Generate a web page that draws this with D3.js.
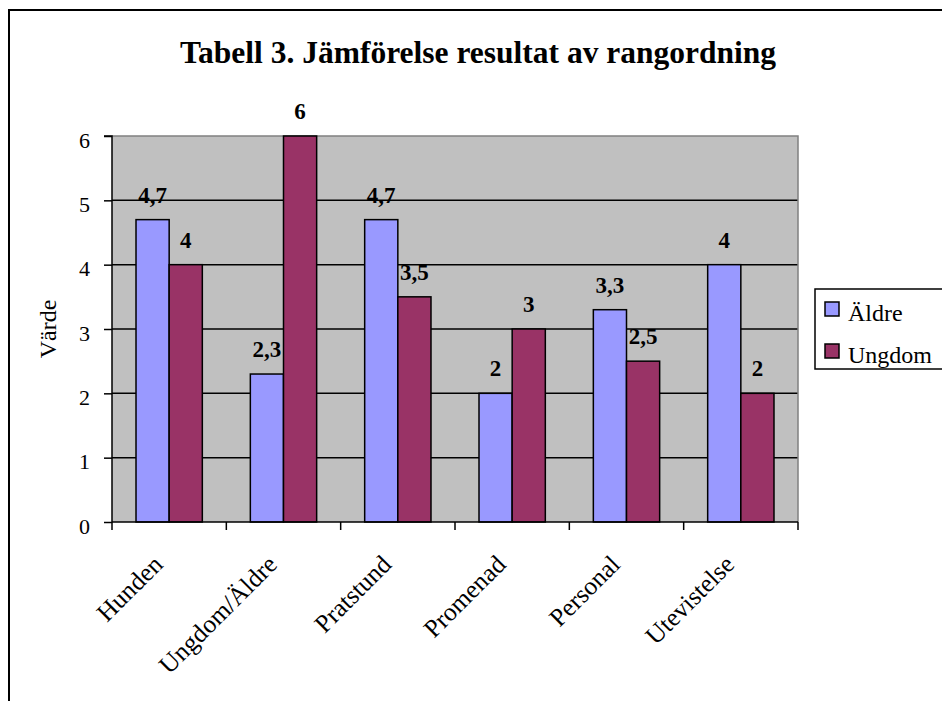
<!DOCTYPE html>
<html>
<head>
<meta charset="utf-8">
<script src="https://cdn.jsdelivr.net/npm/d3@7"></script>
<style>
  body { margin: 0; background: #fff; }
  svg { display: block; font-family: "Liberation Serif", "DejaVu Serif", serif; }
</style>
</head>
<body>
<svg width="942" height="701"></svg>
<script>
// chart data
const categories = ['Hunden', 'Ungdom/Äldre', 'Pratstund', 'Promenad', 'Personal', 'Utevistelse'];
const seriesNames = ['Äldre', 'Ungdom'];
const aldre = [4.7, 2.3, 4.7, 2, 3.3, 4];
const ungdom = [4, 6, 3.5, 3, 2.5, 2];
const yTicks = [0, 1, 2, 3, 4, 5, 6];
const colors = ['#9999FF', '#993366'];

const svg = d3.select('svg');

// outer frame
svg.append('rect')
    .attr('x', 9).attr('y', 10)
    .attr('width', 960).attr('height', 720)
    .attr('fill', 'none')
    .attr('stroke', '#000')
    .attr('stroke-width', 2);

const pLeft = 112, pRight = 798, pTop = 136, pBottom = 522;

const x = d3.scaleBand().domain(categories).range([pLeft, pRight]).padding(0);
const xs = d3.scaleBand().domain(seriesNames)
    .range([x.bandwidth() * 0.21, x.bandwidth() * 0.79]);
const y = d3.scaleLinear().domain([0, 6]).range([pBottom, pTop]);

// plot background
svg.append('rect')
    .attr('x', pLeft).attr('y', pTop)
    .attr('width', pRight - pLeft).attr('height', pBottom - pTop)
    .attr('fill', '#C0C0C0');

// gridlines
svg.append('g').selectAll('line')
    .data(yTicks.filter(d => d > 0 && d < 6))
    .join('line')
    .attr('x1', pLeft).attr('x2', pRight)
    .attr('y1', d => y(d)).attr('y2', d => y(d))
    .attr('stroke', '#000').attr('stroke-width', 1.5);

// top and right border, gray
svg.append('path')
    .attr('d', `M${pLeft},${pTop}H${pRight}V${pBottom}`)
    .attr('fill', 'none')
    .attr('stroke', '#808080')
    .attr('stroke-width', 1.5);

// bars
const rows = categories.map((c, i) => ({ cat: c, vals: [aldre[i], ungdom[i]] }));
const groups = svg.append('g').selectAll('g')
    .data(rows)
    .join('g')
    .attr('transform', d => `translate(${x(d.cat)},0)`);

groups.selectAll('rect')
    .data(d => d.vals.map((v, j) => ({ name: seriesNames[j], v: v, j: j })))
    .join('rect')
    .attr('x', d => xs(d.name))
    .attr('y', d => y(d.v))
    .attr('width', xs.bandwidth())
    .attr('height', d => y(0) - y(d.v))
    .attr('fill', d => colors[d.j])
    .attr('stroke', '#000')
    .attr('stroke-width', 1.5);

groups.selectAll('text')
    .data(d => d.vals.map((v, j) => ({ name: seriesNames[j], v: v })))
    .join('text')
    .attr('x', d => xs(d.name) + xs.bandwidth() / 2)
    .attr('y', d => y(d.v) - 17)
    .attr('text-anchor', 'middle')
    .attr('font-size', 23)
    .attr('font-weight', 'bold')
    .text(d => String(d.v).replace('.', ','));

// y axis
const yAxis = svg.append('g')
    .attr('transform', `translate(${pLeft},0)`)
    .call(d3.axisLeft(y).tickValues(yTicks).tickSize(8).tickPadding(14).tickFormat(d3.format('d')));
yAxis.select('.domain').attr('stroke-width', 1.5).attr('d', `M-8,${pTop}H0V${pBottom}`);
yAxis.selectAll('.tick line').attr('stroke-width', 1.5);
yAxis.selectAll('.tick text')
    .attr('font-size', 22)
    .attr('font-family', '"Liberation Serif", serif')
    .attr('fill', '#000')
    .attr('dy', '0.5em');

// x axis
const xAxis = svg.append('g')
    .attr('transform', `translate(0,${pBottom})`)
    .call(d3.axisBottom(x).tickSize(0).tickFormat(''));
xAxis.select('.domain').attr('stroke-width', 1.5).attr('d', `M${pLeft},0H${pRight}`);
xAxis.selectAll('.tick').remove();
xAxis.append('g').selectAll('line')
    .data(categories.concat(['_end']))
    .join('line')
    .attr('x1', (d, i) => pLeft + i * x.step())
    .attr('x2', (d, i) => pLeft + i * x.step())
    .attr('y1', 0).attr('y2', 8)
    .attr('stroke', '#000').attr('stroke-width', 1.5);

svg.append('g').selectAll('text')
    .data(categories)
    .join('text')
    .attr('transform', d => `translate(${x(d) + x.bandwidth() / 2 - 5},${pBottom + 44}) rotate(-45)`)
    .attr('text-anchor', 'end')
    .attr('font-size', 25.5)
    .text(d => d);

// y axis title
svg.append('text')
    .attr('transform', `translate(56,${(pTop + pBottom) / 2}) rotate(-90)`)
    .attr('text-anchor', 'middle')
    .attr('font-size', 24)
    .text('Värde');

// title
svg.append('text')
    .attr('x', 478).attr('y', 63)
    .attr('text-anchor', 'middle')
    .attr('font-size', 31.5)
    .attr('font-weight', 'bold')
    .text('Tabell 3. Jämförelse resultat av rangordning');

// legend
const legend = svg.append('g');
legend.append('rect')
    .attr('x', 815).attr('y', 289)
    .attr('width', 140).attr('height', 80)
    .attr('fill', '#fff').attr('stroke', '#000').attr('stroke-width', 1.5);
const items = legend.selectAll('g.item')
    .data(seriesNames)
    .join('g')
    .attr('class', 'item')
    .attr('transform', (d, i) => `translate(825,${302 + i * 42})`);
items.append('rect')
    .attr('width', 14).attr('height', 14)
    .attr('fill', (d, i) => colors[i])
    .attr('stroke', '#000').attr('stroke-width', 1.5);
items.append('text')
    .attr('x', 23).attr('y', 19)
    .attr('font-size', 24)
    .text(d => d);
</script>
</body>
</html>
